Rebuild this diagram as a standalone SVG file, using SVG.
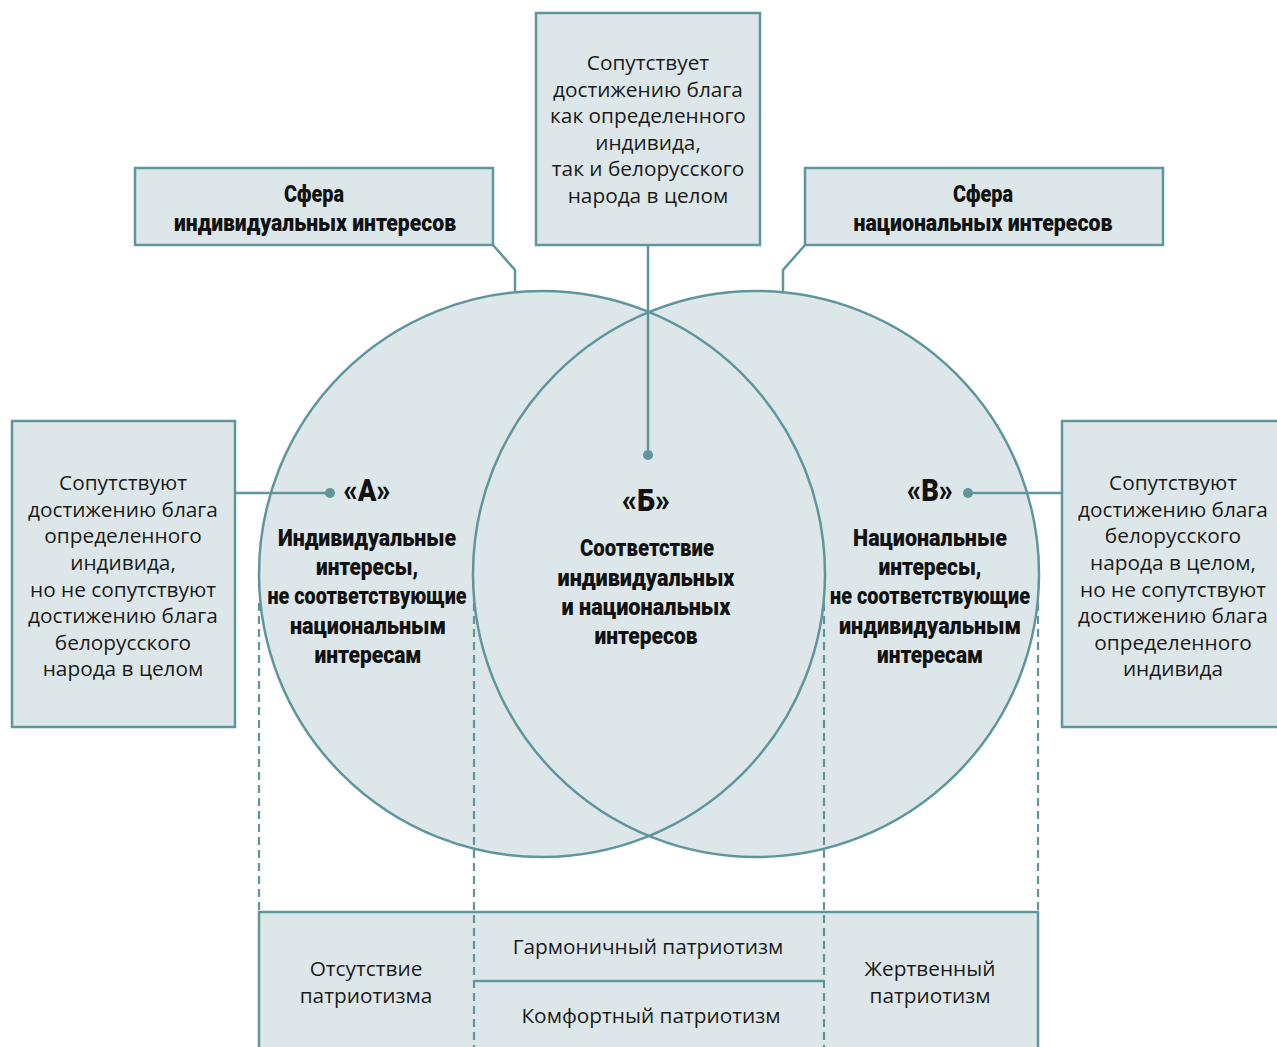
<svg xmlns="http://www.w3.org/2000/svg" width="1277" height="1047" viewBox="0 0 1277 1047">
<style>
.box{fill:#dde7e9;stroke:#5f969e;stroke-width:2.5}
.ln{fill:none;stroke:#5f969e;stroke-width:2.5}
.dash{fill:none;stroke:#5f969e;stroke-width:2.2;stroke-dasharray:8 5}
.dot{fill:#5f969e}
.t{font-family:"Open Sans","Noto Sans",sans-serif;font-size:20.8px;fill:#1a1a1a;text-anchor:middle}
.b{font-family:"Roboto","Liberation Sans",sans-serif;font-weight:900;font-size:23.5px;fill:#111;text-anchor:middle}
.L{font-family:"Roboto","Liberation Sans",sans-serif;font-weight:900;font-size:32px;fill:#111;text-anchor:middle}
</style>
<rect width="1277" height="1047" fill="#fff"/>
<g id="circles">
<circle cx="542" cy="574" r="283" fill="#dde7e9"/>
<circle cx="756" cy="574" r="283" fill="#dde7e9"/>
<circle cx="542" cy="574" r="283" class="ln"/>
<circle cx="756" cy="574" r="283" class="ln"/>
</g>
<g id="table">
<rect x="259" y="912" width="779" height="150" class="box"/>
<line x1="474" y1="981" x2="824" y2="981" class="ln"/>
<text class="t" x="366" y="976">Отсутствие</text>
<text class="t" x="366" y="1003">патриотизма</text>
<text class="t" x="648" y="954">Гармоничный патриотизм</text>
<text class="t" x="651" y="1023">Комфортный патриотизм</text>
<text class="t" x="930" y="976">Жертвенный</text>
<text class="t" x="930" y="1003">патриотизм</text>
</g>
<g id="connectors">
<line x1="259" y1="603" x2="259" y2="912" class="dash"/>
<line x1="1038" y1="603" x2="1038" y2="912" class="dash"/>
<line x1="474" y1="603" x2="474" y2="1047" class="dash"/>
<line x1="824" y1="603" x2="824" y2="1047" class="dash"/>
<polyline points="493,245 515,270 515,292" class="ln"/>
<polyline points="805,245 783,270 783,292" class="ln"/>
<line x1="648" y1="245" x2="648" y2="455" class="ln"/>
<circle cx="648" cy="455" r="5" class="dot"/>
<line x1="235" y1="493" x2="330" y2="493" class="ln"/>
<circle cx="330" cy="493" r="5" class="dot"/>
<line x1="1062" y1="493" x2="968" y2="493" class="ln"/>
<circle cx="968" cy="493" r="5" class="dot"/>
</g>
<g id="box-individual">
<rect x="135" y="168" width="358" height="77" class="box"/>
<text class="b" x="314" y="202" textLength="60" lengthAdjust="spacingAndGlyphs">Сфера</text>
<text class="b" x="315" y="231" textLength="282" lengthAdjust="spacingAndGlyphs">индивидуальных интересов</text>
</g>
<g id="box-national">
<rect x="805" y="168" width="358" height="77" class="box"/>
<text class="b" x="983" y="202" textLength="60" lengthAdjust="spacingAndGlyphs">Сфера</text>
<text class="b" x="983" y="231" textLength="259" lengthAdjust="spacingAndGlyphs">национальных интересов</text>
</g>
<g id="box-center">
<rect x="536" y="13" width="224" height="232" class="box"/>
<text class="t" x="648" y="70">Сопутствует</text>
<text class="t" x="648" y="97">достижению блага</text>
<text class="t" x="648" y="123">как определенного</text>
<text class="t" x="648" y="150">индивида,</text>
<text class="t" x="648" y="176">так и белорусского</text>
<text class="t" x="648" y="203">народа в целом</text>
</g>
<g id="box-left">
<rect x="12" y="421" width="223" height="306" class="box"/>
<text class="t" x="123" y="490">Сопутствуют</text>
<text class="t" x="123" y="517">достижению блага</text>
<text class="t" x="123" y="543">определенного</text>
<text class="t" x="123" y="570">индивида,</text>
<text class="t" x="123" y="597">но не сопутствуют</text>
<text class="t" x="123" y="623">достижению блага</text>
<text class="t" x="123" y="650">белорусского</text>
<text class="t" x="123" y="676">народа в целом</text>
</g>
<g id="box-right">
<rect x="1062" y="421" width="230" height="306" class="box"/>
<text class="t" x="1173" y="490">Сопутствуют</text>
<text class="t" x="1173" y="517">достижению блага</text>
<text class="t" x="1173" y="543">белорусского</text>
<text class="t" x="1173" y="570">народа в целом,</text>
<text class="t" x="1173" y="597">но не сопутствуют</text>
<text class="t" x="1173" y="623">достижению блага</text>
<text class="t" x="1173" y="650">определенного</text>
<text class="t" x="1173" y="676">индивида</text>
</g>
<g id="zone-a">
<text class="L" x="367" y="501" textLength="47" lengthAdjust="spacingAndGlyphs">«А»</text>
<text class="b" x="367" y="546" textLength="178" lengthAdjust="spacingAndGlyphs">Индивидуальные</text>
<text class="b" x="367" y="575" textLength="102" lengthAdjust="spacingAndGlyphs">интересы,</text>
<text class="b" x="367" y="604" textLength="199" lengthAdjust="spacingAndGlyphs">не соответствующие</text>
<text class="b" x="368" y="634" textLength="156" lengthAdjust="spacingAndGlyphs">национальным</text>
<text class="b" x="368" y="663" textLength="107" lengthAdjust="spacingAndGlyphs">интересам</text>
</g>
<g id="zone-b">
<text class="L" x="646" y="511" textLength="48" lengthAdjust="spacingAndGlyphs">«Б»</text>
<text class="b" x="647" y="556" textLength="134" lengthAdjust="spacingAndGlyphs">Соответствие</text>
<text class="b" x="646" y="586" textLength="177" lengthAdjust="spacingAndGlyphs">индивидуальных</text>
<text class="b" x="646" y="615" textLength="169" lengthAdjust="spacingAndGlyphs">и национальных</text>
<text class="b" x="646" y="644" textLength="103" lengthAdjust="spacingAndGlyphs">интересов</text>
</g>
<g id="zone-c">
<text class="L" x="930" y="501" textLength="46" lengthAdjust="spacingAndGlyphs">«В»</text>
<text class="b" x="930" y="546" textLength="154" lengthAdjust="spacingAndGlyphs">Национальные</text>
<text class="b" x="930" y="575" textLength="103" lengthAdjust="spacingAndGlyphs">интересы,</text>
<text class="b" x="930" y="604" textLength="200" lengthAdjust="spacingAndGlyphs">не соответствующие</text>
<text class="b" x="930" y="634" textLength="182" lengthAdjust="spacingAndGlyphs">индивидуальным</text>
<text class="b" x="930" y="663" textLength="106" lengthAdjust="spacingAndGlyphs">интересам</text>
</g>
</svg>
